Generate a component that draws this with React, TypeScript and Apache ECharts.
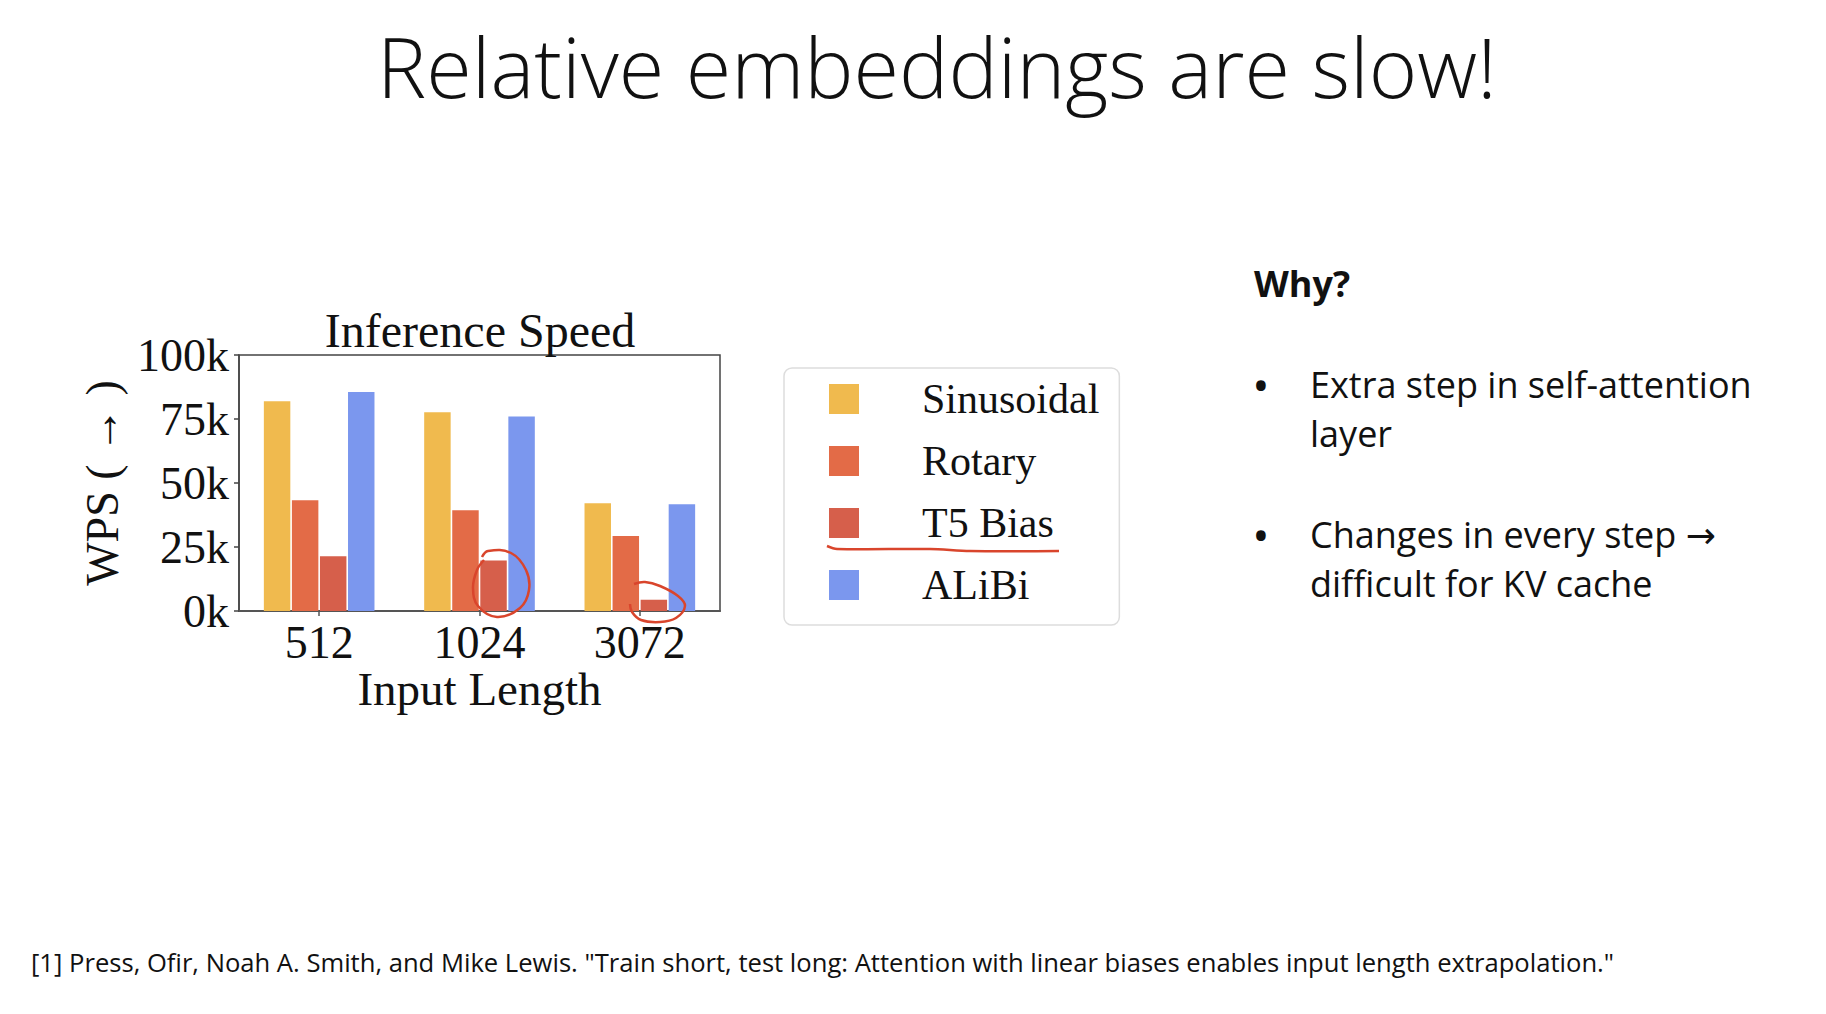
import React, { useEffect, useRef } from "react";
import * as echarts from "echarts";

const categories = ["512", "1024", "3072"];
const seriesNames = ["Sinusoidal", "Rotary", "T5 Bias", "ALiBi"];
const sinusoidal = [81.9, 77.6, 42.1];
const rotary = [43.3, 39.4, 29.3];
const t5Bias = [21.4, 19.7, 4.4];
const alibi = [85.5, 76.0, 41.7];
const seriesColors = ["#F0BA4E", "#E36B47", "#D65F4B", "#7B97EE"];
const yMin = 0;
const yMax = 100;
const yInterval = 25;

const slideTitle = "Relative embeddings are slow!";
const chartTitle = "Inference Speed";
const xName = "Input Length";
const yName = "WPS ( \u2192 )";
const whyText = "Why?";
const bulletLines = [
  ["Extra step in self-attention", "layer"],
  ["Changes in every step \u2192", "difficult for KV cache"],
];
const footer =
  '[1] Press, Ofir, Noah A. Smith, and Mike Lewis. "Train short, test long: Attention with linear biases enables input length extrapolation."';

const SERIF = '"Liberation Serif", "Times New Roman", serif';
const SANS = '"Open Sans", "DejaVu Sans", "Noto Sans", sans-serif';
const RED = "#D9452C";

export default function App() {
  const ref = useRef<HTMLDivElement>(null);
  useEffect(() => {
    if (!ref.current) return;
    const chart = echarts.init(ref.current, null, { renderer: "svg" });
    const values = [sinusoidal, rotary, t5Bias, alibi];

    const graphic: any[] = [
      {
        type: "text",
        x: 937,
        y: 65,
        style: {
          text: slideTitle,
          font: `300 82.8px ${SANS}`,
          fill: "#111",
          textAlign: "center",
          textVerticalAlign: "middle",
        },
      },
      {
        type: "text",
        x: 1254,
        y: 283,
        style: {
          text: whyText,
          font: `bold 36px ${SANS}`,
          fill: "#111",
          textAlign: "left",
          textVerticalAlign: "middle",
        },
      },
      {
        type: "text",
        x: 31,
        y: 962,
        style: {
          text: footer,
          font: `25.6px ${SANS}`,
          fill: "#111",
          textAlign: "left",
          textVerticalAlign: "middle",
        },
      },
      // hand-drawn annotations
      {
        type: "polyline",
        z: 50,
        shape: {
          points: [
            [827, 546],
            [837, 549],
            [930, 549],
            [970, 551],
            [1059, 551],
          ],
          smooth: 0.3,
        },
        style: { stroke: RED, lineWidth: 2.5, fill: null },
      },
      {
        type: "polyline",
        z: 50,
        shape: {
          points: [
            [482, 557],
            [488, 551],
            [511, 553],
            [526, 570],
            [529, 590],
            [520, 608],
            [497, 617],
            [478, 606],
            [473, 588],
            [477, 570],
            [484, 560],
          ],
          smooth: 0.4,
        },
        style: { stroke: RED, lineWidth: 2.5, fill: null },
      },
      {
        type: "polyline",
        z: 50,
        shape: {
          points: [
            [634, 584],
            [645, 582],
            [660, 586],
            [678, 596],
            [685, 606],
            [676, 618],
            [660, 622],
            [641, 620],
            [632, 612],
            [630, 604],
          ],
          smooth: 0.4,
        },
        style: { stroke: RED, lineWidth: 2.5, fill: null },
      },
    ];

    bulletLines.forEach((lines, bi) => {
      const baseY = bi === 0 ? 384 : 534;
      graphic.push({
        type: "text",
        x: 1261,
        y: baseY,
        style: {
          text: "\u2022",
          font: `46px ${SANS}`,
          fill: "#111",
          textAlign: "center",
          textVerticalAlign: "middle",
        },
      });
      lines.forEach((ln, li) => {
        graphic.push({
          type: "text",
          x: 1310,
          y: baseY + li * 49,
          style: {
            text: ln,
            font: `36px ${SANS}`,
            fill: "#111",
            textAlign: "left",
            textVerticalAlign: "middle",
          },
        });
      });
    });

    chart.setOption({
      animation: false,
      backgroundColor: "#ffffff",
      title: {
        text: chartTitle,
        left: 475,
        top: 301,
        textAlign: "center",
        textStyle: {
          fontFamily: SERIF,
          fontSize: 48,
          fontWeight: "normal",
          color: "#111",
        },
      },
      legend: {
        data: seriesNames,
        orient: "vertical",
        left: 784,
        top: 368,
        icon: "rect",
        itemWidth: 30,
        itemHeight: 30,
        itemGap: 20,
        padding: [10, 20, 19, 45],
        borderColor: "#dddddd",
        borderWidth: 1.5,
        borderRadius: 8,
        formatter: (name: string) => `{t|${name}}`,
        textStyle: {
          fontFamily: SERIF,
          fontSize: 42,
          color: "#111",
          rich: {
            t: {
              fontFamily: SERIF,
              fontSize: 42,
              lineHeight: 42,
              color: "#111",
              padding: [0, 0, 0, 58],
            },
          },
        },
      },
      grid: {
        left: 239,
        top: 355,
        width: 481,
        height: 256,
        show: true,
        borderColor: "#444",
        borderWidth: 1.5,
        backgroundColor: "transparent",
        containLabel: false,
      },
      xAxis: {
        type: "category",
        data: categories,
        axisLine: { show: true, lineStyle: { color: "#555", width: 2 } },
        axisTick: {
          show: true,
          alignWithLabel: true,
          length: 5,
          lineStyle: { color: "#555", width: 1.5 },
        },
        axisLabel: {
          fontFamily: SERIF,
          fontSize: 46,
          color: "#111",
          margin: 8,
        },
        name: xName,
        nameLocation: "middle",
        nameGap: 54,
        nameTextStyle: { fontFamily: SERIF, fontSize: 47, color: "#111" },
      },
      yAxis: {
        type: "value",
        min: yMin,
        max: yMax,
        interval: yInterval,
        axisLine: { show: true, lineStyle: { color: "#444", width: 1.5 } },
        axisTick: {
          show: true,
          length: 5,
          lineStyle: { color: "#444", width: 1.5 },
        },
        splitLine: { show: false },
        axisLabel: {
          formatter: "{value}k",
          fontFamily: SERIF,
          fontSize: 46,
          color: "#111",
          margin: 10,
        },
        name: yName,
        nameLocation: "middle",
        nameRotate: 90,
        nameGap: 114,
        nameTextStyle: { fontFamily: SERIF, fontSize: 46, color: "#111" },
      },
      series: seriesNames.map((n, i) => ({
        name: n,
        type: "bar",
        data: values[i],
        barGap: "6%",
        barCategoryGap: "31%",
        itemStyle: { color: seriesColors[i] },
      })),
      graphic,
    });
    return () => chart.dispose();
  }, []);
  return (
    <div
      ref={ref}
      style={{ position: "fixed", left: 0, top: 0, width: 1826, height: 1014 }}
    />
  );
}
